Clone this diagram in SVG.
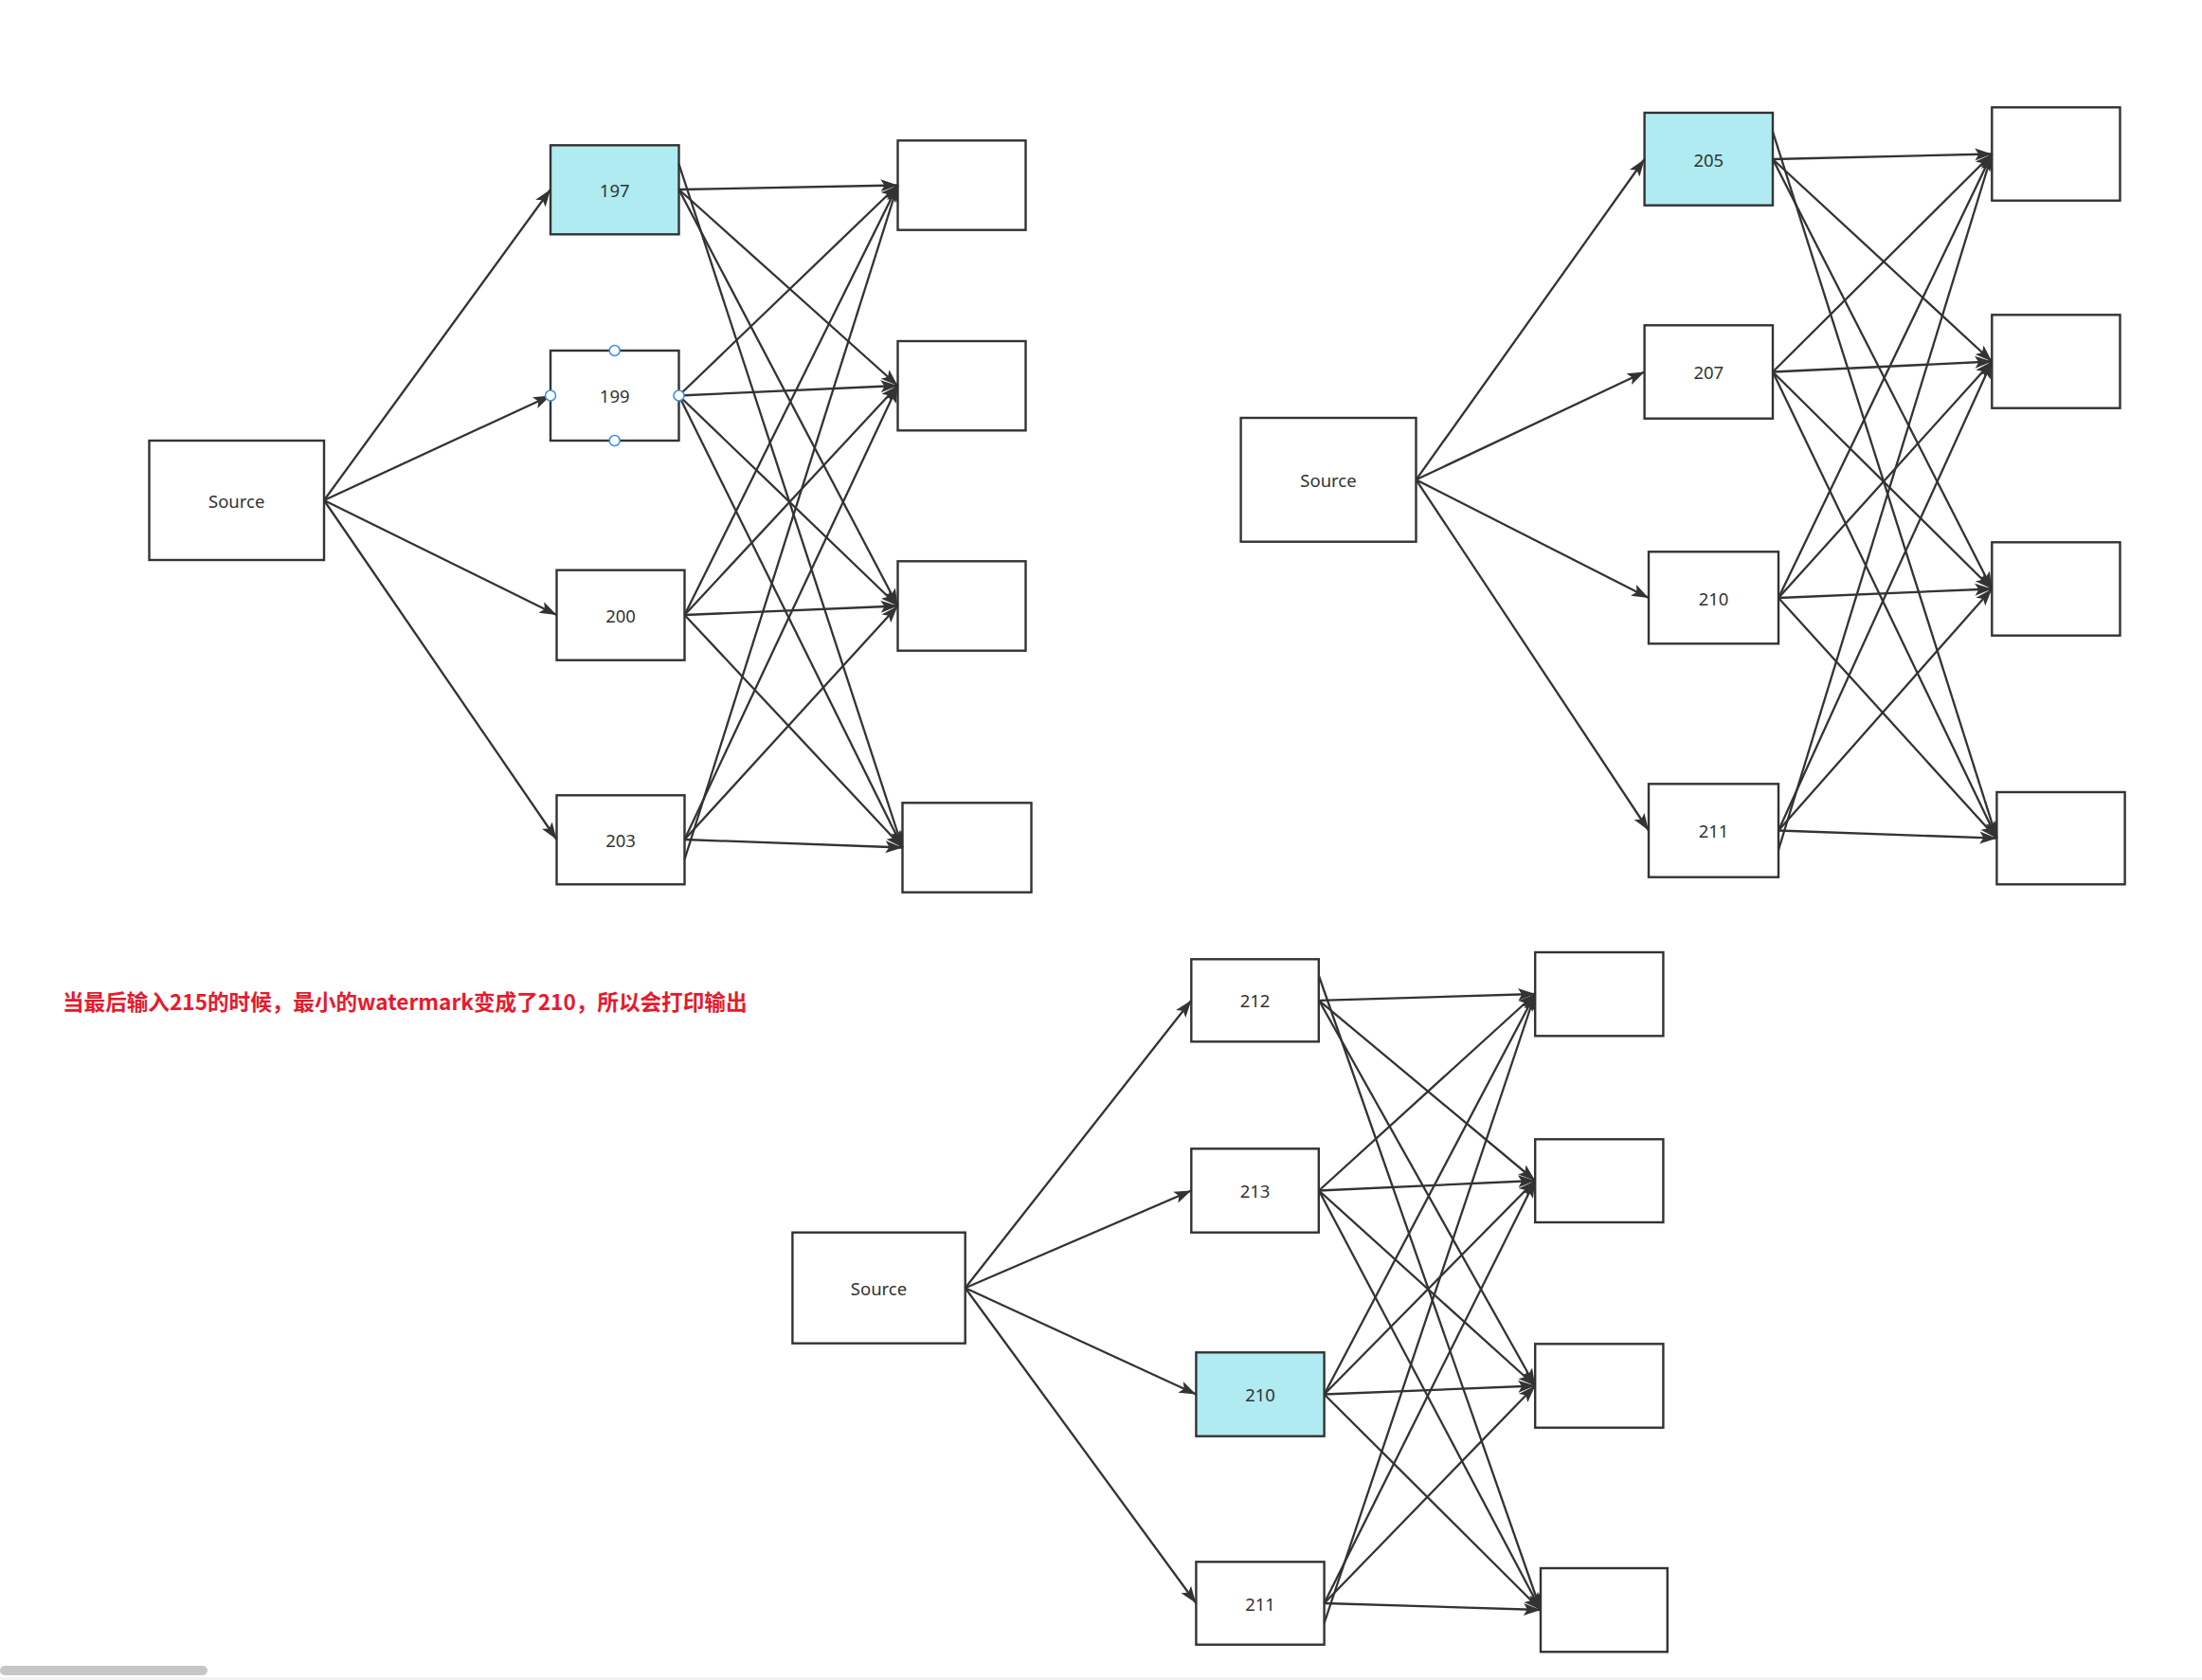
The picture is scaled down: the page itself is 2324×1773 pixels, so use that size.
<svg xmlns="http://www.w3.org/2000/svg" width="2324" height="1773" viewBox="0 0 2324 1773">
<defs>
<marker id="arr" markerUnits="userSpaceOnUse" markerWidth="20" markerHeight="16" refX="19" refY="8" orient="auto"><path d="M1,1.5 L19,8 L1,14.5 L5,8 Z" fill="#333333"/></marker>
<style>
.box{fill:#ffffff;stroke:#333333;stroke-width:2.4}
.hl{fill:#b0ebf2}
.lbl{font-family:"Noto Sans","Open Sans","Liberation Sans",sans-serif;font-size:18.5px;fill:#333333;text-anchor:middle;dominant-baseline:central}
.edges line{stroke:#333333;stroke-width:2.3;marker-end:url(#arr)}
.handle{fill:#ffffff;stroke:#3a8ee8;stroke-width:1.5}
.note{font-family:"Noto Sans CJK SC","Noto Sans",sans-serif;font-size:22.6px;font-weight:bold;fill:#e8192c}
</style>
</defs>
<rect x="0" y="0" width="2324" height="1773" fill="#ffffff"/>

<!-- Panel 1 -->
<g id="p1-source"><rect class="box" x="157.5" y="465" width="184.5" height="126"/><text class="lbl" x="249.7" y="528">Source</text></g>
<g id="p1-197"><rect class="box hl" x="581" y="153.3" width="135.5" height="94"/><text class="lbl" x="648.7" y="200">197</text></g>
<g id="p1-199"><rect class="box" x="581" y="370" width="135.5" height="95"/><text class="lbl" x="648.7" y="417.5">199</text></g>
<g id="p1-200"><rect class="box" x="587.5" y="601.7" width="135" height="95"/><text class="lbl" x="655" y="649">200</text></g>
<g id="p1-203"><rect class="box" x="587.5" y="839.3" width="135" height="94"/><text class="lbl" x="655" y="886">203</text></g>
<g id="p1-out1"><rect class="box" x="947.5" y="148.3" width="135" height="94.4"/></g>
<g id="p1-out2"><rect class="box" x="947.5" y="360" width="135" height="94.3"/></g>
<g id="p1-out3"><rect class="box" x="947.5" y="592.3" width="135" height="94.4"/></g>
<g id="p1-out4"><rect class="box" x="952.5" y="847.3" width="136" height="94.4"/></g>

<!-- Panel 2 -->
<g id="p2-source"><rect class="box" x="1309.6" y="441" width="184.9" height="130.7"/><text class="lbl" x="1402" y="506.3">Source</text></g>
<g id="p2-205"><rect class="box hl" x="1735.6" y="119" width="135.4" height="97.7"/><text class="lbl" x="1803.3" y="168">205</text></g>
<g id="p2-207"><rect class="box" x="1735.6" y="343.3" width="135.4" height="98.4"/><text class="lbl" x="1803.3" y="392.5">207</text></g>
<g id="p2-210"><rect class="box" x="1740" y="582.3" width="137" height="97"/><text class="lbl" x="1808.5" y="631">210</text></g>
<g id="p2-211"><rect class="box" x="1740" y="827.3" width="137" height="98.4"/><text class="lbl" x="1808.5" y="876.5">211</text></g>
<g id="p2-out1"><rect class="box" x="2102.3" y="113.3" width="135.2" height="98.4"/></g>
<g id="p2-out2"><rect class="box" x="2102.3" y="332.3" width="135.2" height="98.4"/></g>
<g id="p2-out3"><rect class="box" x="2102.3" y="572.3" width="135.2" height="98.4"/></g>
<g id="p2-out4"><rect class="box" x="2107.4" y="836" width="135.2" height="97.3"/></g>

<!-- Panel 3 -->
<g id="p3-source"><rect class="box" x="836.4" y="1300.7" width="182.3" height="117"/><text class="lbl" x="927.5" y="1359.2">Source</text></g>
<g id="p3-212"><rect class="box" x="1257.3" y="1012.3" width="134.5" height="87"/><text class="lbl" x="1324.5" y="1055.8">212</text></g>
<g id="p3-213"><rect class="box" x="1257.3" y="1212.3" width="134.5" height="88.4"/><text class="lbl" x="1324.5" y="1256.5">213</text></g>
<g id="p3-210"><rect class="box hl" x="1262.4" y="1427.3" width="135.2" height="88.4"/><text class="lbl" x="1330" y="1471.5">210</text></g>
<g id="p3-211"><rect class="box" x="1262.4" y="1648.3" width="135.2" height="87.4"/><text class="lbl" x="1330" y="1692">211</text></g>
<g id="p3-out1"><rect class="box" x="1620.2" y="1005" width="135.2" height="88.3"/></g>
<g id="p3-out2"><rect class="box" x="1620.2" y="1202.3" width="135.2" height="87.7"/></g>
<g id="p3-out3"><rect class="box" x="1620.2" y="1418.3" width="135.2" height="88.4"/></g>
<g id="p3-out4"><rect class="box" x="1626" y="1655" width="133.8" height="88.3"/></g>

<g class="edges" id="connectors">
<!-- panel 1 -->
<line x1="342" y1="528" x2="581" y2="200"/>
<line x1="342" y1="528" x2="581" y2="417.5"/>
<line x1="342" y1="528" x2="587.5" y2="649"/>
<line x1="342" y1="528" x2="587.5" y2="886"/>
<line x1="716.5" y1="200" x2="947.5" y2="195.5"/>
<line x1="716.5" y1="200" x2="947.5" y2="407"/>
<line x1="716.5" y1="200" x2="947.5" y2="639.5"/>
<line x1="716.5" y1="173" x2="952.5" y2="894.5"/>
<line x1="716.5" y1="417.5" x2="947.5" y2="195.5"/>
<line x1="716.5" y1="417.5" x2="947.5" y2="407"/>
<line x1="716.5" y1="417.5" x2="947.5" y2="639.5"/>
<line x1="716.5" y1="417.5" x2="952.5" y2="894.5"/>
<line x1="722.5" y1="649" x2="947.5" y2="195.5"/>
<line x1="722.5" y1="649" x2="947.5" y2="407"/>
<line x1="722.5" y1="649" x2="947.5" y2="639.5"/>
<line x1="722.5" y1="649" x2="952.5" y2="894.5"/>
<line x1="722.5" y1="907" x2="947.5" y2="195.5"/>
<line x1="722.5" y1="886" x2="947.5" y2="407"/>
<line x1="722.5" y1="886" x2="947.5" y2="639.5"/>
<line x1="722.5" y1="886" x2="952.5" y2="894.5"/>
<!-- panel 2 -->
<line x1="1494.5" y1="506.3" x2="1735.6" y2="168"/>
<line x1="1494.5" y1="506.3" x2="1735.6" y2="392.5"/>
<line x1="1494.5" y1="506.3" x2="1740" y2="631"/>
<line x1="1494.5" y1="506.3" x2="1740" y2="876.5"/>
<line x1="1871" y1="168" x2="2102.3" y2="162.5"/>
<line x1="1871" y1="168" x2="2102.3" y2="381.5"/>
<line x1="1871" y1="168" x2="2102.3" y2="621.5"/>
<line x1="1871" y1="139" x2="2107.4" y2="884.7"/>
<line x1="1871" y1="392.5" x2="2102.3" y2="162.5"/>
<line x1="1871" y1="392.5" x2="2102.3" y2="381.5"/>
<line x1="1871" y1="392.5" x2="2102.3" y2="621.5"/>
<line x1="1871" y1="392.5" x2="2107.4" y2="884.7"/>
<line x1="1877" y1="631" x2="2102.3" y2="162.5"/>
<line x1="1877" y1="631" x2="2102.3" y2="381.5"/>
<line x1="1877" y1="631" x2="2102.3" y2="621.5"/>
<line x1="1877" y1="631" x2="2107.4" y2="884.7"/>
<line x1="1877" y1="897" x2="2102.3" y2="162.5"/>
<line x1="1877" y1="876.5" x2="2102.3" y2="381.5"/>
<line x1="1877" y1="876.5" x2="2102.3" y2="621.5"/>
<line x1="1877" y1="876.5" x2="2107.4" y2="884.7"/>
<!-- panel 3 -->
<line x1="1018.7" y1="1359.2" x2="1257.3" y2="1055.8"/>
<line x1="1018.7" y1="1359.2" x2="1257.3" y2="1256.5"/>
<line x1="1018.7" y1="1359.2" x2="1262.4" y2="1471.5"/>
<line x1="1018.7" y1="1359.2" x2="1262.4" y2="1692"/>
<line x1="1392" y1="1055.8" x2="1620.2" y2="1049"/>
<line x1="1392" y1="1055.8" x2="1620.2" y2="1246"/>
<line x1="1392" y1="1055.8" x2="1620.2" y2="1462.5"/>
<line x1="1392" y1="1030" x2="1626" y2="1699"/>
<line x1="1392" y1="1256.5" x2="1620.2" y2="1049"/>
<line x1="1392" y1="1256.5" x2="1620.2" y2="1246"/>
<line x1="1392" y1="1256.5" x2="1620.2" y2="1462.5"/>
<line x1="1392" y1="1256.5" x2="1626" y2="1699"/>
<line x1="1397.6" y1="1471.5" x2="1620.2" y2="1049"/>
<line x1="1397.6" y1="1471.5" x2="1620.2" y2="1246"/>
<line x1="1397.6" y1="1471.5" x2="1620.2" y2="1462.5"/>
<line x1="1397.6" y1="1471.5" x2="1626" y2="1699"/>
<line x1="1397.6" y1="1713" x2="1620.2" y2="1049"/>
<line x1="1397.6" y1="1692" x2="1620.2" y2="1246"/>
<line x1="1397.6" y1="1692" x2="1620.2" y2="1462.5"/>
<line x1="1397.6" y1="1692" x2="1626" y2="1699"/>
</g>

<g id="p1-199-handles">
<circle class="handle" cx="648.7" cy="370" r="5.5"/>
<circle class="handle" cx="648.7" cy="465" r="5.5"/>
<circle class="handle" cx="581" cy="417.5" r="5.5"/>
<circle class="handle" cx="716.5" cy="417.5" r="5.5"/>
</g>

<text class="note" x="66" y="1066">当最后输入215的时候，最小的watermark变成了210，所以会打印输出</text>

<rect x="0" y="1770" width="2324" height="3" fill="#f2f2f2"/>
<rect x="0" y="1758" width="219" height="10" rx="5" fill="#c6c6c6"/>
</svg>
